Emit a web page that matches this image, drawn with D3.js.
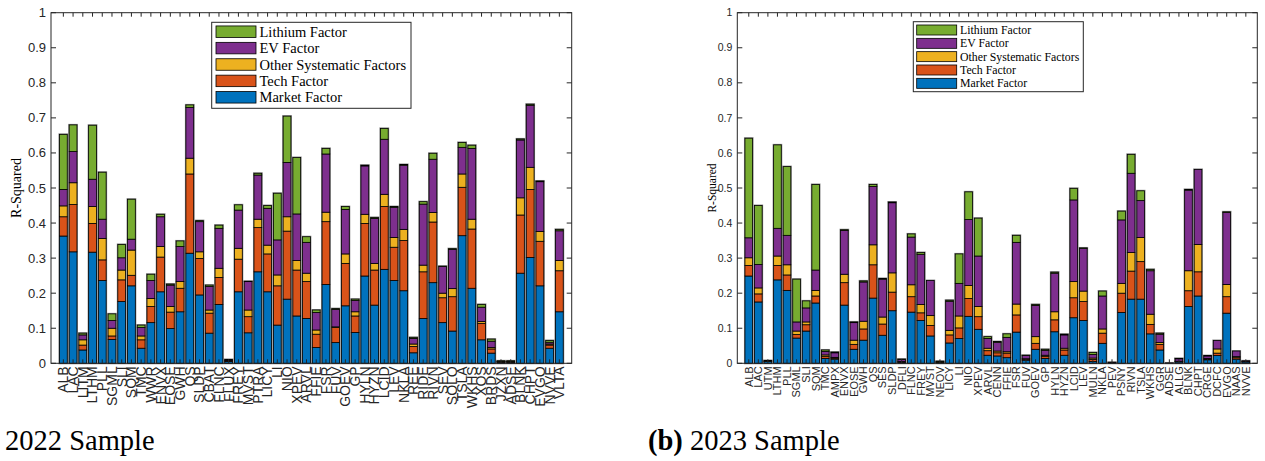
<!DOCTYPE html>
<meta charset="utf-8">
<script src="https://d3js.org/d3.v7.min.js"></script>
<style>
    body { margin: 0; background: #fff; }
    .axis-num { font-family: 'Liberation Sans', Arial, sans-serif; fill: #262626; }
    .serif { font-family: 'Liberation Serif', 'Times New Roman', serif; fill: #000; }
</style>
<svg id="chart" width="1265" height="461"></svg>
<script>
// factor names, bottom to top of each stack
const factors = ["Market Factor", "Tech Factor", "Other Systematic Factors", "EV Factor", "Lithium Factor"];
const colors = ["#0072BD", "#D95319", "#EDB120", "#7E2F8E", "#77AC30"];

// ---- 2022 sample ----
const tickers2022 = ["ALB","LAC","LITM","LTHM","PLL","SGML","SLI","SQM","TMC","WWR","ENVX","EOSE","GWH","QS","SLDP","CBAT","FLNC","FLUX","FREY","MVST","PTRA","LICY","LI","NIO","XPEV",
    "ARVL","FFIE","FSR","FUV","GOEV","GP","HYLN","HYZN","LCID","LEV","NKLA","REE","RIDE","RIVN","SEV","SOLO","TSLA","WKHS","XOS","BRDS","JZXN","ADSE","BLNK","CHPT","EVGO","NVVE","VLTA"];
const market2022 = [.363,.318,.038,.317,.236,.068,.176,.221,.043,.116,.204,.099,.147,.314,.195,.086,.168,.005,.204,.087,.261,.204,.109,.183,.135,
    .128,.045,.225,.059,.164,.088,.249,.166,.268,.236,.207,.030,.128,.230,.116,.092,.364,.214,.067,.029,.003,.003,.257,.302,.221,.043,.147];
const tech2022 = [.055,.135,.014,.082,.059,.010,.062,.030,.024,.046,.099,.047,.067,.226,.104,.057,.077,.002,.093,.046,.126,.108,.112,.194,.131,
    .105,.038,.179,.043,.121,.047,.150,.100,.179,.095,.143,.018,.133,.173,.071,.098,.138,.169,.047,.012,.001,.001,.166,.194,.127,.009,.117];
const other2022 = [.031,.062,.015,.048,.061,.022,.028,.072,.011,.023,.030,.016,.019,.045,.019,.009,.026,.001,.031,.019,.024,.025,.031,.041,.027,
    .024,.012,.027,.002,.027,.012,.026,.019,.035,.028,.032,.007,.019,.027,.013,.023,.038,.028,.005,.004,.001,.001,.049,.063,.028,.003,.029];
const ev2022 = [.047,.089,.014,.078,.055,.022,.035,.031,.024,.051,.085,.061,.100,.145,.086,.067,.114,.002,.109,.081,.126,.105,.100,.155,.133,
    .088,.050,.166,.050,.127,.032,.138,.128,.157,.086,.183,.016,.174,.152,.076,.112,.076,.202,.041,.018,.001,.001,.165,.177,.142,.005,.085];
const lithium2022 = [.157,.076,.005,.154,.134,.019,.038,.114,.007,.018,.007,.003,.016,.007,.003,.004,.009,.001,.015,.001,.005,.008,.133,.132,.161,
    .016,.007,.016,.002,.008,.004,.002,.003,.031,.002,.002,.003,.007,.017,.001,.002,.014,.009,.008,.006,.001,.001,.003,.003,.002,.005,.004];

// ---- 2023 sample ----
const tickers2023 = ["ALB","LAC","UTM","LTHM","PLL","SGML","SLI","SQM","TMC","AMPX","ENVX","EOSE","GWH","QS","SES","SLDP","DFLI","FLNC","FREY","MVST","NEOV","LICY","LI","NIO","XPEV",
    "ARVL","CENN","FFIE","FSR","FUV","GOEV","GP","HYLN","HYZN","LCID","LEV","MULN","NKLA","PEV","PSNY","RIVN","TSLA","WKHS","GGR","ADSE","ALLG","BLNK","CHPT","CRGE","DCFC","EVGO","NAAS","NVVE"];
const market2023 = [.249,.175,.005,.238,.208,.072,.092,.172,.014,.012,.166,.040,.066,.186,.080,.150,.003,.146,.122,.078,.002,.058,.071,.134,.097,
    .023,.021,.016,.089,.009,.040,.014,.090,.023,.130,.122,.005,.057,.001,.145,.183,.183,.084,.038,.000,.004,.162,.192,.010,.022,.143,.012,.004];
const tech2023 = [.030,.023,.001,.041,.044,.010,.018,.020,.006,.003,.064,.014,.032,.095,.032,.053,.001,.044,.022,.030,.001,.023,.030,.051,.036,
    .013,.009,.013,.049,.003,.017,.006,.034,.015,.057,.054,.006,.029,.001,.055,.080,.107,.027,.016,.000,.001,.045,.069,.002,.007,.047,.004,.001];
const other2023 = [.022,.017,.001,.027,.029,.010,.008,.016,.004,.002,.024,.012,.022,.057,.020,.055,.001,.034,.024,.028,.001,.013,.034,.037,.029,
    .007,.005,.004,.031,.001,.019,.003,.023,.005,.046,.030,.004,.012,.000,.028,.053,.069,.029,.005,.000,.001,.057,.078,.002,.012,.035,.003,.001];
const ev2023 = [.057,.067,.001,.079,.084,.026,.040,.058,.010,.013,.125,.050,.112,.166,.108,.200,.006,.136,.143,.100,.001,.083,.093,.188,.144,
    .028,.025,.041,.176,.009,.089,.014,.110,.038,.233,.122,.010,.094,.001,.181,.226,.105,.124,.024,.001,.007,.230,.214,.007,.024,.205,.016,.001];
const lithium2023 = [.284,.168,.000,.238,.196,.122,.020,.244,.004,.002,.002,.002,.003,.006,.002,.002,.001,.009,.005,.000,.001,.003,.084,.079,.108,
    .005,.002,.010,.020,.001,.003,.003,.003,.002,.033,.001,.006,.014,.000,.025,.054,.028,.004,.003,.000,.001,.002,.000,.001,.000,.002,.000,.000];

const yTicks = d3.range(0, 11).map(d => d / 10);

const panels = [
    {
        tickers: tickers2022, series: [market2022, tech2022, other2022, ev2022, lithium2022],
        x0: 51, x1: 571.7, pad: 1.27, numFont: 13, tickerFont: 14,
        yLabelX: 16, yLabelFont: 14,
        legend: {x: 211.7, y: 22.3, w: 199.3, h: 86, row0: 31.7, step: 16.4, sx: 216, sw: 40, sh: 11.5, tx: 259.5, font: 14.5}
    },
    {
        tickers: tickers2023, series: [market2023, tech2023, other2023, ev2023, lithium2023],
        x0: 737.3, x1: 1257.3, pad: 1.2, numFont: 10.5, tickerFont: 11,
        yLabelX: 712, yLabelFont: 11.5,
        legend: {x: 913.3, y: 21.7, w: 170, h: 70, row0: 30, step: 13.33, sx: 916.7, sw: 40, sh: 10, tx: 960, font: 11.8}
    }
];

const svg = d3.select("#chart");
const yTop = 12.7, yBottom = 363.3;

panels.forEach(function (p) {
    const n = p.tickers.length;
    const rows = p.tickers.map(function (t, i) {
        let r = {name: t, idx: i + 1};
        factors.forEach(function (f, k) { r[f] = p.series[k][i]; });
        return r;
    });

    const x = d3.scaleLinear().domain([1 - p.pad, n + p.pad]).range([p.x0, p.x1]);
    const y = d3.scaleLinear().domain([0, 1]).range([yBottom, yTop]);
    const step = x(2) - x(1);
    const bw = step * 0.8;

    const g = svg.append("g");

    // white plot area
    g.append("rect")
        .attr("x", p.x0).attr("y", yTop)
        .attr("width", p.x1 - p.x0).attr("height", yBottom - yTop)
        .attr("fill", "#fff");

    const stacked = d3.stack().keys(factors)(rows);

    // gray outline round each whole bar
    g.selectAll("rect.outline")
        .data(rows)
        .enter()
        .append("rect")
        .attr("class", "outline")
        .attr("x", d => x(d.idx) - bw / 2)
        .attr("width", bw)
        .attr("y", d => y(d3.sum(factors, f => d[f])))
        .attr("height", d => yBottom - y(d3.sum(factors, f => d[f])))
        .attr("fill", "none")
        .attr("stroke", "#8a8a8a")
        .attr("stroke-width", 2);

    stacked.forEach(function (layer, k) {
        g.selectAll("rect.seg" + k)
            .data(layer)
            .enter()
            .append("rect")
            .attr("class", "seg" + k)
            .attr("x", d => x(d.data.idx) - bw / 2)
            .attr("width", bw)
            .attr("y", d => y(d[1]))
            .attr("height", d => y(d[0]) - y(d[1]))
            .attr("fill", colors[k])
            .attr("stroke", "#000")
            .attr("stroke-width", 0.8);
    });

    // axes box
    g.append("rect")
        .attr("x", p.x0).attr("y", yTop)
        .attr("width", p.x1 - p.x0).attr("height", yBottom - yTop)
        .attr("fill", "none")
        .attr("stroke", "#262626")
        .attr("stroke-width", 1);

    // y ticks both sides, inward
    yTicks.forEach(function (t) {
        g.append("line").attr("x1", p.x0).attr("x2", p.x0 + 5)
            .attr("y1", y(t)).attr("y2", y(t)).attr("stroke", "#262626");
        g.append("line").attr("x1", p.x1).attr("x2", p.x1 - 5)
            .attr("y1", y(t)).attr("y2", y(t)).attr("stroke", "#262626");
    });
    g.selectAll("text.ynum")
        .data(yTicks)
        .enter()
        .append("text")
        .attr("class", "axis-num")
        .attr("x", p.x0 - 5)
        .attr("y", d => y(d))
        .attr("dy", "0.35em")
        .attr("text-anchor", "end")
        .style("font-size", p.numFont + "px")
        .text(d => d3.format("")(d));

    // x ticks top and bottom, inward
    rows.forEach(function (d) {
        g.append("line").attr("x1", x(d.idx)).attr("x2", x(d.idx))
            .attr("y1", yBottom).attr("y2", yBottom - 4).attr("stroke", "#262626");
        g.append("line").attr("x1", x(d.idx)).attr("x2", x(d.idx))
            .attr("y1", yTop).attr("y2", yTop + 4).attr("stroke", "#262626");
    });

    // rotated ticker labels
    g.selectAll("text.ticker")
        .data(rows)
        .enter()
        .append("text")
        .attr("class", "axis-num")
        .attr("transform", d => "translate(" + x(d.idx) + "," + (yBottom + 3) + ") rotate(-90)")
        .attr("dy", "0.35em")
        .attr("text-anchor", "end")
        .style("font-size", p.tickerFont + "px")
        .text(d => d.name);

    // y axis title
    g.append("text")
        .attr("class", "serif")
        .attr("transform", "translate(" + p.yLabelX + "," + ((yTop + yBottom) / 2) + ") rotate(-90)")
        .attr("dy", "0.35em")
        .attr("text-anchor", "middle")
        .style("font-size", p.yLabelFont + "px")
        .text("R-Squared");

    // legend
    const L = p.legend;
    g.append("rect")
        .attr("x", L.x).attr("y", L.y).attr("width", L.w).attr("height", L.h)
        .attr("fill", "#fff").attr("stroke", "#262626").attr("stroke-width", 1);
    const order = [4, 3, 2, 1, 0];
    order.forEach(function (k, j) {
        const cy = L.row0 + j * L.step;
        g.append("rect")
            .attr("x", L.sx).attr("y", cy - L.sh / 2)
            .attr("width", L.sw).attr("height", L.sh)
            .attr("fill", colors[k]).attr("stroke", "#000").attr("stroke-width", 0.8);
        g.append("text")
            .attr("class", "serif")
            .attr("x", L.tx).attr("y", cy)
            .attr("dy", "0.35em")
            .style("font-size", L.font + "px")
            .text(factors[k]);
    });
});

// captions under the panels
svg.append("text")
    .attr("class", "serif")
    .attr("x", 5).attr("y", 450)
    .style("font-size", "28.5px")
    .text("2022 Sample");

const cap = svg.append("text")
    .attr("class", "serif")
    .attr("x", 648).attr("y", 450)
    .style("font-size", "28.5px");
cap.append("tspan").style("font-weight", "bold").text("(b)");
cap.append("tspan").text(" 2023 Sample");
</script>
